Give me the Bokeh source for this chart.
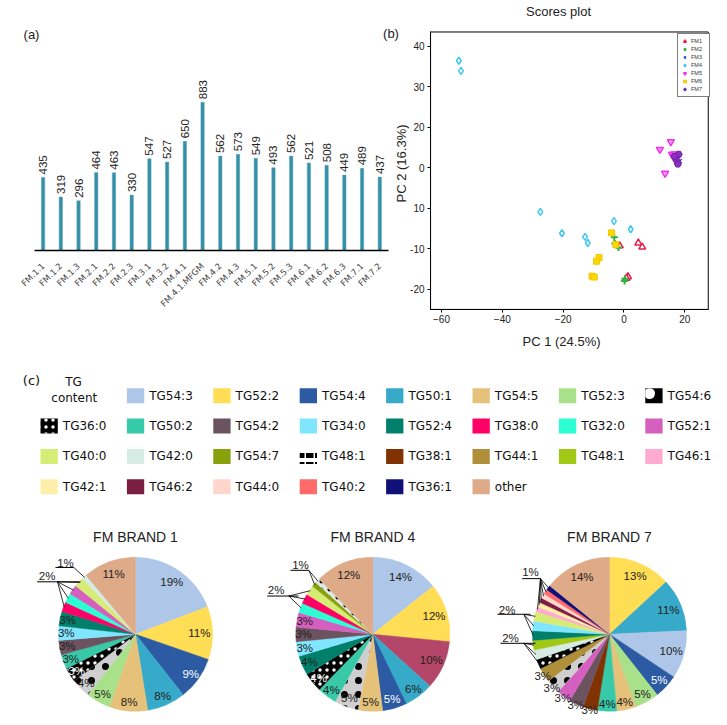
import math
from bokeh.plotting import figure
from bokeh.models import Range1d, ColumnDataSource, Label, FixedTicker, LinearAxis
from bokeh.layouts import row, column
from bokeh.embed import file_html
from bokeh.resources import INLINE
from bokeh.core.properties import value

# ---------------- (a) bar chart data ----------------
bar_samples = ["FM.1.1", "FM.1.2", "FM.1.3", "FM.2.1", "FM.2.2", "FM.2.3", "FM.3.1", "FM.3.2",
               "FM.4.1", "FM.4.1.MFGM", "FM.4.2", "FM.4.3", "FM.5.1", "FM.5.2", "FM.5.3",
               "FM.6.1", "FM.6.2", "FM.6.3", "FM.7.1", "FM.7.2"]
bar_values = [435, 319, 296, 464, 463, 330, 547, 527, 650, 883, 562, 573, 549, 493, 562,
              521, 508, 449, 489, 437]

# ---------------- (b) scores plot data ----------------
fm1_x = [-1.4, 4.7, 6.0, 1.3, 0.8]
fm1_y = [-9.3, -8.6, -9.6, -16.9, -17.3]
fm2_x = [-3.2, -3.0, -1.8, 0.3, 0.2]
fm2_y = [-7.2, -8.7, -9.7, -17.4, -18.0]
fm3_x = [17.2, 18.3, 17.6]
fm3_y = [12.3, 11.6, 12.9]
fm4_x = [-54.3, -53.6, -27.5, -20.4, -12.8, -11.9, -3.3, 2.2]
fm4_y = [36.4, 33.9, -0.9, -6.2, -7.1, -8.6, -3.2, -5.2]
fm5_x = [11.8, 15.4, 13.5, 15.8, 16.6, 16.2]
fm5_y = [14.5, 16.4, 8.6, 13.3, 13.4, 12.8]
fm6_x = [-4.1, -2.7, -8.2, -9.0, -10.5, -9.8]
fm6_y = [-6.1, -9.0, -12.2, -13.1, -16.8, -17.0]
fm7_x = [18.0, 17.3, 17.7, 16.6]
fm7_y = [13.3, 11.8, 10.9, 12.8]
score_groups = ["FM1", "FM2", "FM3", "FM4", "FM5", "FM6", "FM7"]
score_xlim = (-63.6, 27.7)
score_ylim = (-25.0, 43.5)
score_x_ticks = [-60, -40, -20, 0, 20]
score_y_ticks = [-20, -10, 0, 10, 20, 30, 40]
score_y_tick_labels = ["-20", "-10", "10", "0", "20", "30", "40"]

# ---------------- (c) legend + pies ----------------
legend_labels = ["TG54:3", "TG52:2", "TG54:4", "TG50:1", "TG54:5", "TG52:3", "TG54:6",
                 "TG36:0", "TG50:2", "TG54:2", "TG34:0", "TG52:4", "TG38:0", "TG32:0", "TG52:1",
                 "TG40:0", "TG42:0", "TG54:7", "TG48:1", "TG38:1", "TG44:1", "TG48:1", "TG46:1",
                 "TG42:1", "TG46:2", "TG44:0", "TG40:2", "TG36:1", "other"]
legend_keys = ["TG54:3", "TG52:2", "TG54:4", "TG50:1", "TG54:5", "TG52:3", "TG54:6",
               "TG36:0", "TG50:2", "TG54:2", "TG34:0", "TG52:4", "TG38:0", "TG32:0", "TG52:1",
               "TG40:0", "TG42:0", "TG54:7", "TG48:1p", "TG38:1", "TG44:1", "TG48:1", "TG46:1",
               "TG42:1", "TG46:2", "TG44:0", "TG40:2", "TG36:1", "other"]

pie_titles = ["FM BRAND 1", "FM BRAND 4", "FM BRAND 7"]
pie1_tg = ["TG54:3", "TG52:2", "TG54:4", "TG50:1", "TG54:5", "TG52:3", "TG54:6", "TG36:0",
           "TG50:2", "TG54:2", "TG34:0", "TG52:4", "TG38:0", "TG32:0", "TG52:1", "TG40:0",
           "TG42:0", "other"]
pie1_pct = [19, 11, 9, 8, 8, 5, 4, 3, 3, 3, 3, 3, 2, 2, 2, 2, 1, 11]
pie2_tg = ["TG54:3", "TG52:2", "unlisted", "TG50:1", "TG54:4", "TG54:5", "TG54:6", "TG50:2",
           "TG36:0", "TG52:4", "TG34:0", "TG54:2", "TG52:1", "TG32:0", "TG38:0", "TG40:0",
           "TG54:7", "TG48:1p", "other"]
pie2_pct = [14, 12, 10, 6, 5, 5, 5, 4, 4, 4, 3, 3, 3, 2, 2, 2, 1, 1, 12]
pie3_tg = ["TG52:2", "TG50:1", "TG54:3", "TG54:4", "TG52:3", "TG54:5", "TG50:2", "TG38:1",
           "TG54:2", "TG52:1", "TG54:6", "TG44:1", "TG36:0", "TG42:0", "TG48:1", "TG52:4",
           "TG34:0", "TG40:0", "TG46:1", "TG42:1", "TG46:2", "TG44:0", "TG40:2", "TG36:1", "other"]
pie3_pct = [13, 11, 10, 5, 5, 4, 4, 3, 3, 3, 3, 3, 2, 2, 2, 2, 2, 2, 1, 1, 1, 1, 1, 1, 14]

pie1_callouts = [("1%", ["TG42:0"]), ("2%", ["TG38:0", "TG32:0", "TG52:1", "TG40:0"])]
pie2_callouts = [("1%", ["TG54:7", "TG48:1p"]), ("2%", ["TG32:0", "TG38:0", "TG40:0"])]
pie3_callouts = [("1%", ["TG46:1", "TG42:1", "TG46:2", "TG44:0", "TG40:2", "TG36:1"]),
                 ("2%", ["TG52:4", "TG34:0", "TG40:0"]),
                 ("2%", ["TG36:0", "TG42:0", "TG48:1"])]

# ---------------- styles / layout ----------------
STYLE = {  # fill, hatch, hatch colour, hatch scale, hatch weight
    "TG54:3": ("#aec7e8", " ", "black", 10, 1), "TG52:2": ("#ffdd55", " ", "black", 10, 1),
    "TG54:4": ("#2c5ba3", " ", "black", 10, 1), "TG50:1": ("#36aac8", " ", "black", 10, 1),
    "TG54:5": ("#e6c17a", " ", "black", 10, 1), "TG52:3": ("#a9e08a", " ", "black", 10, 1),
    "TG54:6": ("#cfcfcf", "dot", "black", 14, 1), "TG36:0": ("#000000", "dot", "white", 7, 1),
    "TG50:2": ("#38c9a9", " ", "black", 10, 1), "TG54:2": ("#6b535f", " ", "black", 10, 1),
    "TG34:0": ("#80e6ff", " ", "black", 10, 1), "TG52:4": ("#00806b", " ", "black", 10, 1),
    "TG38:0": ("#ff0066", " ", "black", 10, 1), "TG32:0": ("#2dffd5", " ", "black", 10, 1),
    "TG52:1": ("#d45fbe", " ", "black", 10, 1), "TG40:0": ("#d6ec74", " ", "black", 10, 1),
    "TG42:0": ("#d5ebe3", " ", "black", 10, 1), "TG54:7": ("#88a00c", " ", "black", 10, 1),
    "TG48:1p": ("#dfe9e5", "dot", "black", 8, 1), "TG38:1": ("#803300", " ", "black", 10, 1),
    "TG44:1": ("#b08f3a", " ", "black", 10, 1), "TG48:1": ("#a0c814", " ", "black", 10, 1),
    "TG46:1": ("#ffaad0", " ", "black", 10, 1), "TG42:1": ("#ffeeaa", " ", "black", 10, 1),
    "TG46:2": ("#7a1f42", " ", "black", 10, 1), "TG44:0": ("#ffd5cc", " ", "black", 10, 1),
    "TG40:2": ("#ff6b6b", " ", "black", 10, 1), "TG36:1": ("#101078", " ", "black", 10, 1),
    "other": ("#dfaa88", " ", "black", 10, 1), "unlisted": ("#b4466a", " ", "black", 10, 1),
}
LEGEND_SWATCH = {"TG54:6": ("black", "dot", "white", 22, 1),
                 "TG48:1p": ("white", "horizontal_dash", "black", 9, 5)}
WHITE_TEXT = {"TG54:4", "TG36:0"}
ARIAL = "Liberation Sans"
DARK = "#222222"

# ================= top row: (a) and (b) share one canvas =================
W_TOP, H_TOP = 727, 360
BAR_X0, BAR_STEP = 42.6, 17.72          # px position of first bar, px per bar
BAR_BASE, BAR_PPU = 250.0, 148.3 / 883  # px of baseline, px per unit
SC_X0, SC_XPPU = 441.0, 243.33 / 80      # px of x=-60, px per unit
SC_Y0, SC_YPPU = 45.67, 4.05             # px of y=40, px per unit

bx_range = Range1d(-BAR_X0 / BAR_STEP, (W_TOP - BAR_X0) / BAR_STEP)
by_range = Range1d(-(H_TOP - BAR_BASE) / BAR_PPU, BAR_BASE / BAR_PPU)
sx_range = Range1d(-60 - SC_X0 / SC_XPPU, -60 + (W_TOP - SC_X0) / SC_XPPU)
sy_range = Range1d(40 - (H_TOP - SC_Y0) / SC_YPPU, 40 + SC_Y0 / SC_YPPU)

pt = figure(width=W_TOP, height=H_TOP, x_range=bx_range, y_range=by_range,
            extra_x_ranges={"sx": sx_range}, extra_y_ranges={"sy": sy_range},
            x_axis_type=None, y_axis_type=None, output_backend="svg", toolbar_location=None,
            min_border=0)
pt.outline_line_color = None
pt.grid.visible = False

# --- (a) bars
idx = list(range(len(bar_samples)))
pt.vbar(x=idx, top=bar_values, width=0.19, fill_color="#3590a7", line_color="#5aa9bc", line_width=0.5)
pt.text(x=idx, y=bar_values, text=[str(v) for v in bar_values], angle=math.pi / 2,
        text_align="left", text_baseline="middle", y_offset=-3,
        text_font=value(ARIAL), text_font_size="11.5px", text_color=DARK)
bar_axis = LinearAxis(fixed_location=0, bounds=(-0.5, len(bar_samples) - 0.5),
                      ticker=FixedTicker(ticks=idx),
                      major_label_overrides={i: s for i, s in zip(idx, bar_samples)})
bar_axis.axis_line_width = 1.5
bar_axis.axis_line_color = "black"
bar_axis.major_tick_line_color = None
bar_axis.minor_tick_line_color = None
bar_axis.major_label_orientation = math.pi / 4
bar_axis.major_label_text_font = "DejaVu Sans"
bar_axis.major_label_text_font_size = "8.5px"
bar_axis.major_label_text_color = "#444444"
bar_axis.major_label_standoff = 8
pt.add_layout(bar_axis, "below")
pt.text(x=[(31 - BAR_X0) / BAR_STEP], y=[(BAR_BASE - 34) / BAR_PPU], text=["(a)"],
        text_align="center", text_baseline="middle", text_font=value(ARIAL),
        text_font_size="13px", text_color=DARK)

# --- (b) scores plot
pt.quad(left=[score_xlim[0]], right=[score_xlim[1]], bottom=[score_ylim[0]], top=[score_ylim[1]],
        fill_color=None, line_color="black", line_width=1, x_range_name="sx", y_range_name="sy")
sc_xaxis = LinearAxis(x_range_name="sx", y_range_name="sy", fixed_location=score_ylim[0],
                      bounds=score_xlim, ticker=FixedTicker(ticks=score_x_ticks))
sc_yaxis = LinearAxis(x_range_name="sx", y_range_name="sy", fixed_location=score_xlim[0],
                      bounds=score_ylim, ticker=FixedTicker(ticks=score_y_ticks),
                      major_label_overrides={t: l for t, l in zip(score_y_ticks, score_y_tick_labels)})
for ax in (sc_xaxis, sc_yaxis):
    ax.axis_line_color = "black"
    ax.major_tick_out = 3
    ax.major_tick_in = 0
    ax.minor_tick_line_color = None
    ax.major_label_text_font = ARIAL
    ax.major_label_text_font_size = "10px"
    ax.major_label_text_color = DARK
    ax.major_label_standoff = 3
pt.add_layout(sc_xaxis, "below")
pt.add_layout(sc_yaxis, "left")

xs = [fm1_x, fm2_x, fm3_x, fm4_x, fm5_x, fm6_x, fm7_x]
ys = [fm1_y, fm2_y, fm3_y, fm4_y, fm5_y, fm6_y, fm7_y]
marks = [
    dict(marker="triangle", line_color="#e8204c", fill_color="white", line_width=1.5, size=7),
    dict(marker="cross", line_color="#33b044", line_width=2, size=7),
    dict(marker="x", line_color="#3050e0", line_width=1.5, size=6),
    dict(marker="diamond", line_color="#40c8f0", fill_color="white", line_width=1.5, size=7),
    dict(marker="inverted_triangle", line_color="#f030f0", fill_color="#f8a0f8", line_width=1.5, size=7),
    dict(marker="square", line_color="#f0c800", fill_color="#ffd700", size=6),
    dict(marker="hex", line_color="#7020a0", fill_color="#8a2fc0", size=7),
]
for g, x, y, m in zip(score_groups, xs, ys, marks):
    pt.scatter(x=x, y=y, legend_label=g, x_range_name="sx", y_range_name="sy", **m)
lg = pt.legend[0]
lg.location = (677, H_TOP - 96.7)
lg.margin = 0
lg.padding = 3
lg.spacing = 0
lg.label_height = 8
lg.glyph_height = 8
lg.glyph_width = 7
lg.label_standoff = 3
lg.label_width = 15
lg.label_text_font = ARIAL
lg.label_text_font_size = "5.5px"
lg.label_text_color = "#333333"
lg.border_line_color = "black"
lg.border_line_width = 1
lg.background_fill_alpha = 1


def sxp(px):
    return -60 + (px - SC_X0) / SC_XPPU


def syp(py):
    return 40 - (py - SC_Y0) / SC_YPPU


pt.text(x=[sxp(558), sxp(390.5), sxp(561)], y=[syp(11), syp(33.3), syp(341)],
        text=["Scores plot", "(b)", "PC 1 (24.5%)"], text_align="center", text_baseline="middle",
        text_font=value(ARIAL), text_font_size="13px", text_color=DARK,
        x_range_name="sx", y_range_name="sy")
pt.text(x=[sxp(400.7)], y=[syp(163)], text=["PC 2 (16.3%)"], angle=math.pi / 2,
        text_align="center", text_baseline="middle", text_font=value(ARIAL),
        text_font_size="13px", text_color=DARK, x_range_name="sx", y_range_name="sy")

# ================= (c) legend =================
pc = figure(width=727, height=145, x_range=Range1d(0, 727), y_range=Range1d(145, 0),
            output_backend="svg", toolbar_location=None, min_border=0,
            x_axis_type=None, y_axis_type=None)
pc.grid.visible = False
pc.outline_line_color = None
sx, sy, fills, hats, hcols, hscs, hws = [], [], [], [], [], [], []
tx, ty = [], []
for i, key in enumerate(legend_keys):
    slot = i + 1
    r, c = slot // 8, slot % 8
    left = 40 + 86.4 * c
    yc = 35.3 + 30.3 * r
    st = LEGEND_SWATCH.get(key, STYLE[key])
    sx.append(left + 8.65); sy.append(yc)
    fills.append(st[0]); hats.append(st[1]); hcols.append(st[2]); hscs.append(st[3]); hws.append(st[4])
    tx.append(left + 22.3); ty.append(yc)
csrc = ColumnDataSource(dict(x=sx, y=sy, fill=fills, hatch=hats, hcol=hcols, hsc=hscs, hw=hws))
pc.rect(x="x", y="y", width=17.3, height=15, fill_color="fill", line_color=None,
        hatch_pattern="hatch", hatch_color="hcol", hatch_scale="hsc", hatch_weight="hw", source=csrc)
pc.text(x=tx, y=ty, text=legend_labels, text_align="left", text_baseline="middle",
        text_font=value("DejaVu Sans"), text_font_size="12px", text_color="#111111")
pc.text(x=[73, 73.8], y=[21.7, 37.3], text=["TG", "content"], text_align="center", text_baseline="middle",
        text_font=value("DejaVu Sans"), text_font_size="12px", text_color="#111111")
pc.text(x=[31], y=[20], text=["(c)"], text_align="center", text_baseline="middle",
        text_font=value("DejaVu Sans"), text_font_size="13px", text_color="#111111")

# ================= pies =================
PIE_R = 77.0
PIE_FIG = [(253, 135.0), (237, 119.3), (237, 119.0)]  # canvas width, centre x within canvas
PIE_H, PIE_CY = 217, 128.8
CALLOUT_POS = [
    [(-0.909, 0.925, -1.039, -0.801, 0.868, -0.801), (-1.147, 0.751, -1.277, -0.714, 0.682, -1.013)],
    [(-0.939, 0.896, -1.069, -0.831, 0.831, -0.831), (-1.255, 0.571, -1.371, -0.965, 0.497, -1.091)],
    [(-1.026, 0.809, -1.134, -0.896, 0.723, -0.896), (-1.329, 0.321, -1.455, -1.026, 0.260, -1.113),
     (-1.286, -0.048, -1.416, -0.961, -0.117, -1.113)],
]
SMALL3_R = [0.9, 0.9, 1.02]


def make_pie(k, title, tgs, pcts, callouts):
    total = float(sum(pcts))
    cum = 0.0
    starts, ends, mids = [], [], []
    for v in pcts:
        a0 = math.pi / 2 - 2 * math.pi * cum / total
        cum += v
        a1 = math.pi / 2 - 2 * math.pi * cum / total
        starts.append(a1); ends.append(a0); mids.append((a0 + a1) / 2)
    src = ColumnDataSource(dict(start=starts, end=ends,
                                color=[STYLE[t][0] for t in tgs], hatch=[STYLE[t][1] for t in tgs],
                                hcol=[STYLE[t][2] for t in tgs], hsc=[STYLE[t][3] for t in tgs]))
    w, cxp = PIE_FIG[k]
    p = figure(width=w, height=PIE_H, x_range=Range1d(-cxp / PIE_R, (w - cxp) / PIE_R),
               y_range=Range1d(-(PIE_H - PIE_CY) / PIE_R, PIE_CY / PIE_R), output_backend="svg",
               toolbar_location=None, min_border=0, x_axis_type=None, y_axis_type=None)
    p.grid.visible = False
    p.outline_line_color = None
    p.wedge(x=0, y=0, radius=1, start_angle="start", end_angle="end", fill_color="color",
            line_color="color", line_width=0.5, hatch_pattern="hatch", hatch_color="hcol",
            hatch_scale="hsc", hatch_weight=1, source=src)
    grouped = set()
    for _, members in callouts:
        grouped.update(members)
    lx, ly, lt, lc = [], [], [], []
    for t, v, m in zip(tgs, pcts, mids):
        if t in grouped:
            continue
        if v >= 10:
            rr = 0.83
        elif v >= 5:
            rr = 0.88
        elif v == 3:
            rr = SMALL3_R[k]
        else:
            rr = 0.9
        lx.append(rr * math.cos(m)); ly.append(rr * math.sin(m)); lt.append(f"{v}%")
        lc.append("white" if t in WHITE_TEXT else DARK)
    p.text(x=lx, y=ly, text=lt, text_color=lc, text_align="center", text_baseline="middle",
           text_font=value(ARIAL), text_font_size="11.5px")
    cx, cy, ct = [], [], []
    ux0, ux1, uy = [], [], []
    fxs, fys = [], []
    for (txt, members), pos in zip(callouts, CALLOUT_POS[k]):
        tx_, ty_, a, b, yy, fx = pos
        cx.append(tx_); cy.append(ty_); ct.append(txt)
        ux0.append(a); ux1.append(b); uy.append(yy)
        for mname in members:
            m = mids[tgs.index(mname)]
            fxs.append([fx, 0.99 * math.cos(m)]); fys.append([yy, 0.99 * math.sin(m)])
    p.segment(x0=ux0, y0=uy, x1=ux1, y1=uy, line_color="black", line_width=1)
    p.multi_line(xs=fxs, ys=fys, line_color="black", line_width=0.8)
    p.text(x=cx, y=cy, text=ct, text_color=DARK, text_align="center", text_baseline="middle",
           text_font=value(ARIAL), text_font_size="11.5px")
    p.text(x=[0], y=[1.27], text=[title], text_align="center", text_baseline="middle",
           text_font=value(ARIAL), text_font_size="14px", text_color=DARK)
    return p


p1 = make_pie(0, pie_titles[0], pie1_tg, pie1_pct, pie1_callouts)
p2 = make_pie(1, pie_titles[1], pie2_tg, pie2_pct, pie2_callouts)
p3 = make_pie(2, pie_titles[2], pie3_tg, pie3_pct, pie3_callouts)

layout = column(pt, pc, row(p1, p2, p3, spacing=0), spacing=0)
open("out.html", "w").write(file_html(layout, INLINE))
